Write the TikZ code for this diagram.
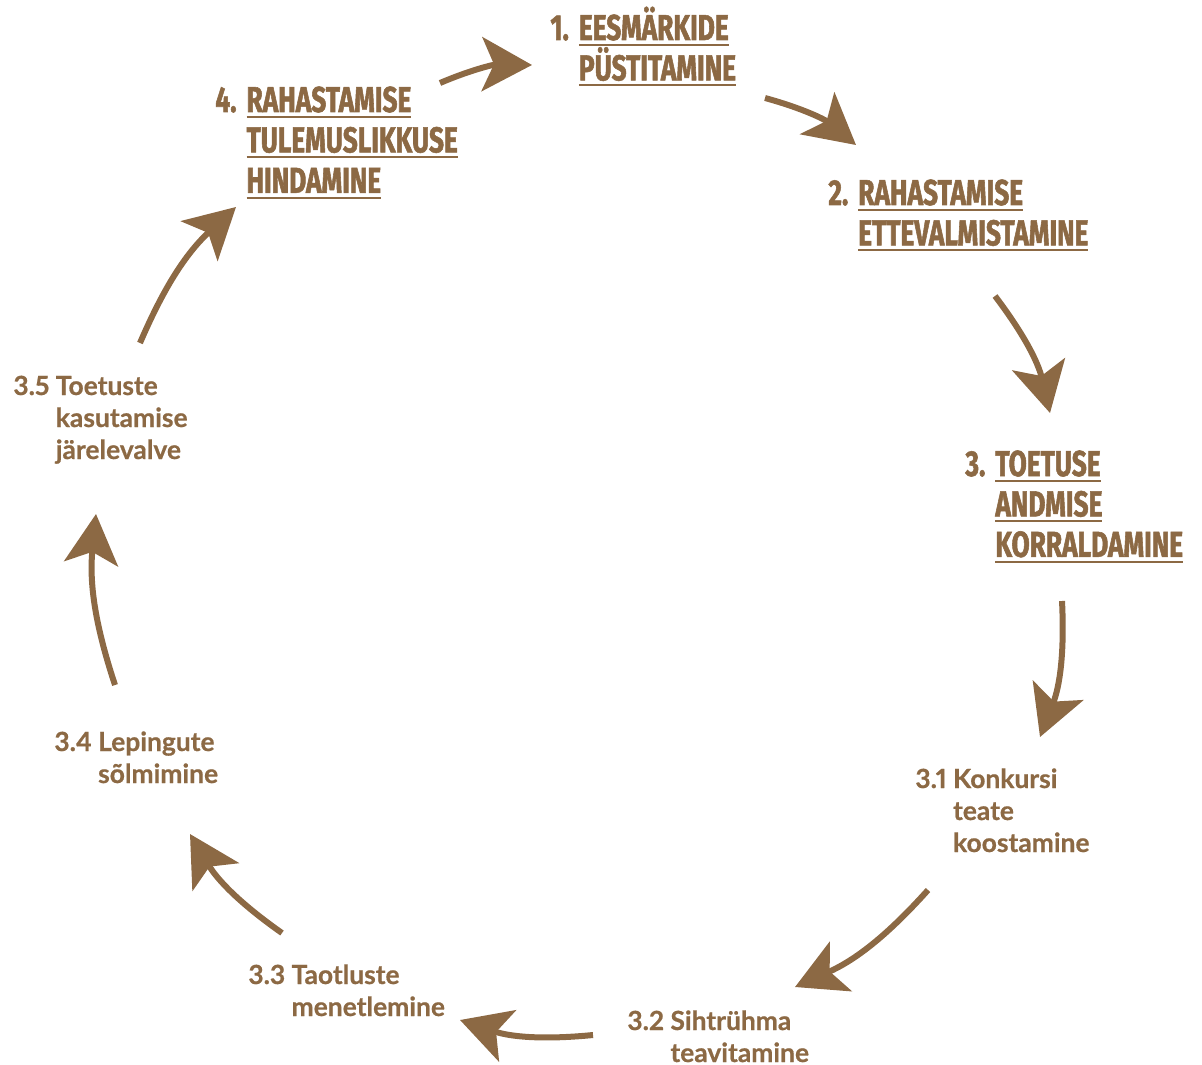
\documentclass[tikz,border=0pt]{standalone}
\usepackage{fontspec}
\usepackage{array}
\usetikzlibrary{arrows.meta}
\newfontfamily\headfont[FakeStretch=0.73, BoldFeatures={FakeBold=1.5}]{Fira Sans}
\newfontfamily\stepfont[Numbers=Proportional, BoldFeatures={FakeBold=0.6}]{Lato}
\definecolor{cyclebrown}{HTML}{8C6944}
\newcommand\ulword[1]{\setbox0\hbox{#1}\rlap{\rule[-3pt]{\wd0}{1pt}}\smash{\copy0}}
\tikzset{
  mainstage/.style={anchor=base west, inner sep=0pt, text=cyclebrown,
    font=\headfont\bfseries\fontsize{18}{20.2}\selectfont},
  substage/.style={anchor=base west, inner sep=0pt, text=cyclebrown,
    font=\stepfont\bfseries\fontsize{13.2}{16}\selectfont},
  flow/.style={draw=cyclebrown, line width=3pt, bend left=12,
    -{Stealth[length=25pt, width=27pt, inset=6pt]}}
}
\begin{document}
\begin{tikzpicture}[x=0.5pt, y=-0.5pt]
\useasboundingbox (0,0) rectangle (1202,1064);
% main stages
\node[mainstage] (goals) at (550, 40) {\begin{tabular}[t]{@{}l@{\hspace{5pt}}l@{}}
1. & \ulword{EESMÄRKIDE}\\
   & \ulword{PÜSTITAMINE}
\end{tabular}};
\node[mainstage] (prep) at (828, 205) {\begin{tabular}[t]{@{}l@{\hspace{5pt}}l@{}}
2. & \ulword{RAHASTAMISE}\\
   & \ulword{ETTEVALMISTAMINE}
\end{tabular}};
\node[mainstage] (support) at (965, 476) {\begin{tabular}[t]{@{}l@{\hspace{5pt}}l@{}}
3. & \ulword{TOETUSE}\\
   & \ulword{ANDMISE}\\
   & \ulword{KORRALDAMINE}
\end{tabular}};
\node[mainstage] (eval) at (215, 112) {\begin{tabular}[t]{@{}l@{\hspace{5pt}}l@{}}
4. & \ulword{RAHASTAMISE}\\
   & \ulword{TULEMUSLIKKUSE}\\
   & \ulword{HINDAMINE}
\end{tabular}};
% sub stages
\node[substage] (call) at (915, 788) {\begin{tabular}[t]{@{}l@{\ }l@{}}
3.1 & Konkursi\\ & teate\\ & koostamine
\end{tabular}};
\node[substage] (inform) at (627, 1030) {\begin{tabular}[t]{@{}l@{\ }l@{}}
3.2 & Sihtrühma\\ & teavitamine
\end{tabular}};
\node[substage] (process) at (248, 984) {\begin{tabular}[t]{@{}l@{\ }l@{}}
3.3 & Taotluste\\ & menetlemine
\end{tabular}};
\node[substage] (contract) at (54, 751) {\begin{tabular}[t]{@{}l@{\ }l@{}}
3.4 & Lepingute\\ & sõlmimine
\end{tabular}};
\node[substage] (monitor) at (13, 395) {\begin{tabular}[t]{@{}l@{\ }l@{}}
3.5 & Toetuste\\ & kasutamise\\ & järelevalve
\end{tabular}};
% arrow ends
\coordinate (a1) at (440, 83);  \coordinate (b1) at (532, 65);
\coordinate (a2) at (765, 98);  \coordinate (b2) at (856, 145);
\coordinate (a3) at (995, 296); \coordinate (b3) at (1050, 413);
\coordinate (a4) at (1062, 601); \coordinate (b4) at (1040, 737);
\coordinate (a5) at (928, 890); \coordinate (b5) at (795, 987);
\coordinate (a6) at (593, 1035); \coordinate (b6) at (460, 1020);
\coordinate (a7) at (282, 933); \coordinate (b7) at (190, 834);
\coordinate (a8) at (115, 685); \coordinate (b8) at (96, 514);
\coordinate (a9) at (140, 343); \coordinate (b9) at (236, 207);
\foreach \i in {1,...,9}
  \draw[flow] (a\i) to (b\i);
\end{tikzpicture}
\end{document}
